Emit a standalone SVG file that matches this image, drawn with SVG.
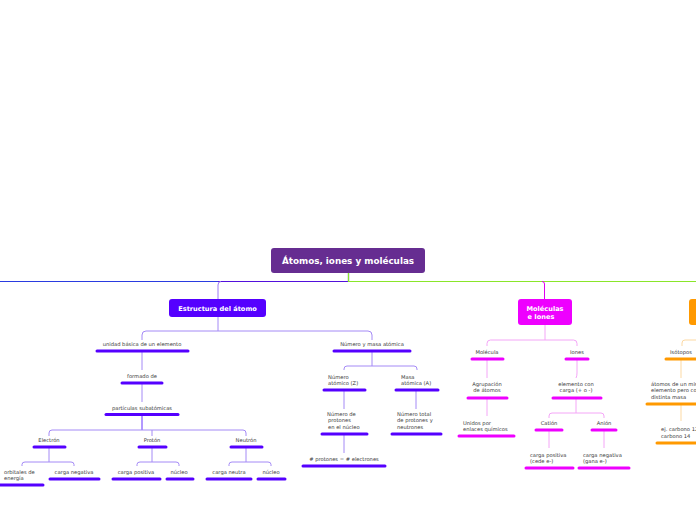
<svg xmlns="http://www.w3.org/2000/svg" width="696" height="520" viewBox="0 0 696 520">
<style>
.t{font-family:"DejaVu Sans","Liberation Sans",sans-serif;font-size:5.2px;fill:#3a3a3a}
.c{text-anchor:middle}
.h{font-family:"DejaVu Sans","Liberation Sans",sans-serif;font-weight:bold;fill:#fff;text-anchor:middle}
.bp{stroke:#5500ff;stroke-width:3;stroke-linecap:round}
.bm{stroke:#ee00ff;stroke-width:3;stroke-linecap:round}
.bo{stroke:#ff9900;stroke-width:3;stroke-linecap:round}
.lp{fill:none;stroke:#a48af6;stroke-width:1}
.lm{fill:none;stroke:#f4a6f7;stroke-width:1}
.lo{fill:none;stroke:#fcd9a3;stroke-width:1}
</style>
<rect width="696" height="520" fill="#fff"/>
<g id="connectors">
<path d="M0,281.5 H218" stroke="#2a3be0" stroke-width="1.2" fill="none"/>
<path d="M218,281.5 H348.5 V273" stroke="#5210dc" stroke-width="1.2" fill="none"/>
<path d="M348.5,273 V281.5 H696" stroke="#8ae62a" stroke-width="1.2" fill="none"/>
<path d="M218,299 V285 Q218,281.5 221,281.5" stroke="#9b79f5" stroke-width="1" fill="none"/>
<path d="M544.5,299 V284 Q544.5,281.5 542,281.5" stroke="#e000f0" stroke-width="1" fill="none"/>
<path class="lp" d="M218,317 V331"/>
<path class="lp" d="M142,340 V335 Q142,331 146,331 H368 Q372,331 372,335 V340"/>
<path class="lp" d="M142,351 V370"/>
<path class="lp" d="M142,383 V402"/>
<path d="M142,414.5 V430" stroke="#6633ff" stroke-width="1" fill="none"/>
<path class="lp" d="M49,436 V433 Q49,430 52,430 H243 Q246,430 246,433 V436"/>
<path class="lp" d="M152,430 V436"/>
<path class="lp" d="M49,447 V462"/>
<path class="lp" d="M22,466 V464.5 Q22,462 25,462 H71 Q74,462 74,464.5 V466"/>
<path class="lp" d="M152,447 V462"/>
<path class="lp" d="M137,466 V464.5 Q137,462 140,462 H176 Q179,462 179,464.5 V466"/>
<path class="lp" d="M246,447 V462"/>
<path class="lp" d="M229,466 V464.5 Q229,462 232,462 H268 Q271,462 271,464.5 V466"/>
<path class="lp" d="M372,351 V366"/>
<path class="lp" d="M344,370 V369 Q344,366 347,366 H414 Q417,366 417,369 V370"/>
<path class="lp" d="M344,390 V409"/>
<path class="lp" d="M416,390 V409"/>
<path class="lp" d="M344,434 V453"/>
<path class="lm" d="M545,325 V340"/>
<path class="lm" d="M487,346 V343.5 Q487,340 490.5,340 H573.5 Q577,340 577,343.5 V346"/>
<path class="lm" d="M487,359 V378"/>
<path class="lm" d="M487,398 V416"/>
<path class="lm" d="M577,359 V373 Q577,376 576,378"/>
<path class="lm" d="M576,398 V413"/>
<path class="lm" d="M549,418 V416 Q549,413 552,413 H601 Q604,413 604,416 V418"/>
<path class="lm" d="M549,430 V448"/>
<path class="lm" d="M604,430 V448"/>
<path class="lo" d="M682,346 V343 Q682,340 685,340 H696"/>
<path class="lo" d="M681,359 V378"/>
<path class="lo" d="M681,404 V421"/>
</g>
<g id="root">
<rect x="271" y="248" width="154" height="25" rx="3" fill="#662d91"/>
<text class="h" x="348" y="264" font-size="8.8">Átomos, iones y moléculas</text>
</g>
<g id="estructura">
<rect x="169" y="299" width="97" height="18" rx="3" fill="#5500ff"/>
<text class="h" x="217.5" y="310.8" font-size="6.6">Estructura del átomo</text>
</g>
<g id="unidad"><text class="t c" x="142" y="346">unidad básica de un elemento</text><line class="bp" x1="97" y1="351" x2="188" y2="351"/></g>
<g id="formado"><text class="t c" x="142" y="378">formado de</text><line class="bp" x1="122" y1="383" x2="162" y2="383"/></g>
<g id="particulas"><text class="t c" x="142" y="409.5">partículas subatómicas</text><line class="bp" x1="106" y1="414.5" x2="178" y2="414.5"/></g>
<g id="electron"><text class="t c" x="49" y="442">Electrón</text><line class="bp" x1="34" y1="447" x2="65" y2="447"/></g>
<g id="proton"><text class="t c" x="152" y="442">Protón</text><line class="bp" x1="139" y1="447" x2="166" y2="447"/></g>
<g id="neutron"><text class="t c" x="246" y="442">Neutrón</text><line class="bp" x1="231" y1="447" x2="262" y2="447"/></g>
<g id="orbitales"><text class="t" x="4" y="473.5">orbitales de</text><text class="t" x="4" y="479.5">energía</text><line class="bp" x1="0" y1="485" x2="43" y2="485"/></g>
<g id="carganeg1"><text class="t c" x="74" y="473.5">carga negativa</text><line class="bp" x1="50" y1="479" x2="99" y2="479"/></g>
<g id="cargapos1"><text class="t c" x="136" y="473.5">carga positiva</text><line class="bp" x1="113" y1="479" x2="160" y2="479"/></g>
<g id="nucleo1"><text class="t c" x="179" y="473.5">núcleo</text><line class="bp" x1="167" y1="479" x2="193" y2="479"/></g>
<g id="carganeutra"><text class="t c" x="229" y="473.5">carga neutra</text><line class="bp" x1="207" y1="479" x2="251" y2="479"/></g>
<g id="nucleo2"><text class="t c" x="271" y="473.5">núcleo</text><line class="bp" x1="258" y1="479" x2="285" y2="479"/></g>
<g id="numeromasa"><text class="t c" x="372" y="346">Número y masa atómica</text><line class="bp" x1="334" y1="351" x2="410" y2="351"/></g>
<g id="numeroZ"><text class="t" x="328" y="378.5">Número</text><text class="t" x="328" y="385">atómico (Z)</text><line class="bp" x1="324" y1="390" x2="365" y2="390"/></g>
<g id="masaA"><text class="t" x="401" y="378.5">Masa</text><text class="t" x="401" y="385">atómica (A)</text><line class="bp" x1="396" y1="390" x2="438" y2="390"/></g>
<g id="numprotones"><text class="t" x="327" y="415.5">Número de</text><text class="t" x="328" y="422">protones</text><text class="t" x="328" y="428.5">en el núcleo</text><line class="bp" x1="322" y1="434" x2="367" y2="434"/></g>
<g id="numtotal"><text class="t" x="397" y="415.5">Número total</text><text class="t" x="397" y="422">de protones y</text><text class="t" x="397" y="428.5">neutrones</text><line class="bp" x1="392" y1="434" x2="441" y2="434"/></g>
<g id="igualdad"><text class="t c" x="344" y="460.5"># protones = # electrones</text><line class="bp" x1="303" y1="466" x2="385" y2="466"/></g>
<g id="moleculas">
<rect x="518" y="299" width="54" height="26" rx="3" fill="#ee00ff"/>
<text class="h" x="545" y="310.5" font-size="6.6">Moléculas</text>
<text class="h" x="541" y="318.5" font-size="6.6">e Iones</text>
</g>
<g id="molecula"><text class="t c" x="487" y="354">Molécula</text><line class="bm" x1="472" y1="359" x2="503" y2="359"/></g>
<g id="iones"><text class="t c" x="577" y="354">Iones</text><line class="bm" x1="566" y1="359" x2="588" y2="359"/></g>
<g id="agrupacion"><text class="t c" x="487" y="385.5">Agrupación</text><text class="t c" x="487" y="392">de átomos</text><line class="bm" x1="468" y1="398" x2="507" y2="398"/></g>
<g id="unidos"><text class="t" x="463" y="424.5">Unidos por</text><text class="t" x="463" y="431">enlaces químicos</text><line class="bm" x1="459" y1="436" x2="514" y2="436"/></g>
<g id="elementocarga"><text class="t c" x="576" y="385.5">elemento con</text><text class="t c" x="576" y="392">carga (+ o -)</text><line class="bm" x1="553" y1="398" x2="601" y2="398"/></g>
<g id="cation"><text class="t c" x="549" y="425">Catión</text><line class="bm" x1="536" y1="430" x2="562" y2="430"/></g>
<g id="anion"><text class="t c" x="604" y="425">Anión</text><line class="bm" x1="592" y1="430" x2="616" y2="430"/></g>
<g id="cargapos2"><text class="t" x="530" y="456.5">carga positiva</text><text class="t" x="530" y="463">(cede e-)</text><line class="bm" x1="526" y1="468" x2="573" y2="468"/></g>
<g id="carganeg2"><text class="t" x="583" y="456.5">carga negativa</text><text class="t" x="583" y="463">(gana e-)</text><line class="bm" x1="579" y1="468" x2="629" y2="468"/></g>
<g id="orange"><rect x="689" y="299" width="30" height="26" rx="3" fill="#ff9900"/></g>
<g id="isotopos"><text class="t c" x="681" y="354">Isótopos</text><line class="bo" x1="666" y1="359" x2="700" y2="359"/></g>
<g id="atomosmismo"><text class="t" x="651" y="385.5">átomos de un mismo</text><text class="t" x="651" y="392">elemento pero con</text><text class="t" x="651" y="398.5">distinta masa</text><line class="bo" x1="647" y1="404" x2="700" y2="404"/></g>
<g id="ejcarbono"><text class="t" x="661" y="431">ej. carbono 12</text><text class="t" x="661" y="437.5">carbono 14</text><line class="bo" x1="657" y1="443" x2="700" y2="443"/></g>
</svg>
